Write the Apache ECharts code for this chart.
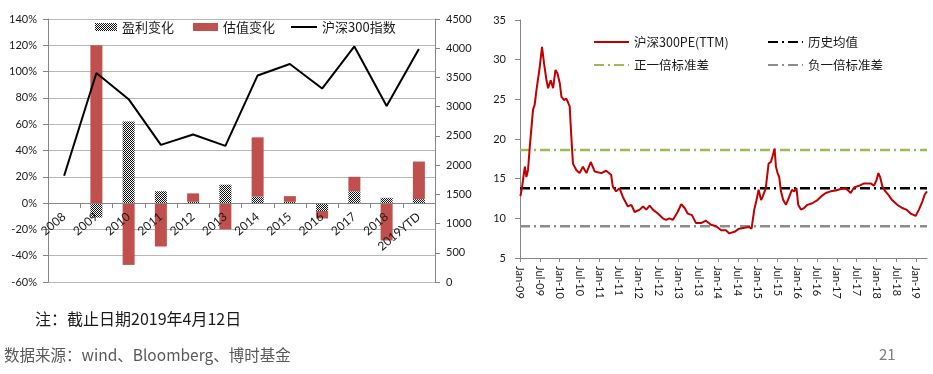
<!DOCTYPE html>
<html><head><meta charset="utf-8">
<script src="https://cdn.jsdelivr.net/npm/echarts@6/dist/echarts.min.js"></script>
<style>html,body{margin:0;padding:0;background:#fff}#c{width:933px;height:374px}</style>
</head><body><div id="c"></div>
<script>
// ---------- Left chart data ----------
const years = ['2008','2009','2010','2011','2012','2013','2014','2015','2016','2017','2018','2019YTD'];
const earningsChange = [null, -11, 62, 9, 1, 14, 5, 1, -6, 9, 4, 3];          // 盈利变化 (%)
const valuationChange = [null, 120, -47, -33, 6.4, -20, 45, 4.3, -5.7, 11, -28.4, 28.6]; // 估值变化 (%)
const hs300Index = [1818, 3576, 3128, 2346, 2523, 2330, 3534, 3731, 3310, 4031, 3011, 3985]; // 沪深300指数
const leftPctAxis = {min: -60, max: 140, step: 20};
const leftIdxAxis = {min: 0, max: 4500, step: 500};

// ---------- Right chart data ----------
const peDates = ['2009-01-05','2009-01-20','2009-02-01','2009-02-15','2009-03-01','2009-03-16','2009-04-01','2009-05-01','2009-05-16','2009-06-02',
'2009-07-02','2009-07-23','2009-08-11','2009-09-02','2009-09-17','2009-10-11','2009-11-02','2009-11-24','2009-12-12','2010-01-03',
'2010-01-18','2010-02-12','2010-03-04','2010-04-04','2010-04-19','2010-05-04','2010-06-04','2010-07-04','2010-08-04','2010-09-05',
'2010-10-15','2010-11-21','2011-01-21','2011-03-06','2011-04-21','2011-05-06','2011-06-06','2011-07-07','2011-08-07','2011-09-22',
'2011-10-24','2011-11-24','2012-01-09','2012-02-09','2012-03-10','2012-04-10','2012-05-10','2012-06-25','2012-08-10','2012-09-10',
'2012-10-10','2012-11-10','2012-12-25','2013-01-27','2013-02-27','2013-03-27','2013-05-06','2013-06-12','2013-07-28','2013-09-12',
'2013-10-28','2013-12-15','2014-01-30','2014-03-15','2014-04-15','2014-06-01','2014-07-15','2014-09-01','2014-10-15','2014-11-06',
'2014-12-01','2014-12-22','2015-01-10','2015-02-02','2015-02-16','2015-03-17','2015-04-12','2015-05-03','2015-05-18','2015-06-06',
'2015-06-19','2015-07-04','2015-07-19','2015-08-04','2015-08-25','2015-09-19','2015-10-19','2015-11-13','2015-12-04','2015-12-25',
'2016-01-10','2016-02-04','2016-03-04','2016-04-04','2016-05-19','2016-07-06','2016-08-21','2016-09-21','2016-11-06','2016-12-22',
'2017-02-06','2017-03-24','2017-05-09','2017-06-09','2017-07-24','2017-09-09','2017-11-09','2017-12-09','2018-01-01','2018-01-19',
'2018-02-04','2018-02-25','2018-03-25','2018-04-25','2018-05-25','2018-07-12','2018-08-27','2018-10-03','2018-11-12','2018-12-28',
'2019-01-28','2019-02-28','2019-03-22','2019-04-12'];
const peValues = [12.8,13.9,15.2,16.5,15.2,16.1,19.0,23.7,24.3,26.2,
29.1,31.6,29.5,27.4,26.4,27.4,26.4,28.7,28.3,27.0,
25.3,24.9,25.1,24.1,20.3,16.9,16.1,15.7,16.5,15.7,
17.1,15.9,15.7,16.0,15.5,14.0,13.4,13.8,12.7,11.5,
11.7,10.8,11.1,11.5,11.1,11.6,11.1,10.6,10.0,9.8,
10.0,9.8,10.8,11.8,11.3,10.6,10.4,9.4,9.4,9.7,
9.2,9.0,8.5,8.5,8.1,8.3,8.7,8.8,8.9,8.7,
11.1,12.3,13.6,12.3,12.7,13.8,16.9,17.1,17.8,18.8,
16.5,15.7,15.2,13.4,12.3,11.7,12.7,13.6,13.4,13.8,
11.7,11.1,11.3,11.7,11.9,12.3,12.9,13.2,13.4,13.5,
13.7,13.8,13.2,13.9,14.1,14.4,14.4,14.1,14.8,15.7,
15.2,14.0,13.4,12.9,12.3,11.7,11.3,11.1,10.6,10.3,
11.1,12.1,13.0,13.4];
const peMean = 13.8, pePlusSd = 18.6, peMinusSd = 9.0;
const peAxisStart = '2009-01-01', peAxisEnd = '2019-04-12';
const rightPeAxis = {min: 5, max: 35, step: 5};

function toYear(s){
  const d = new Date(s + 'T00:00:00Z');
  const y = d.getUTCFullYear();
  const a = Date.UTC(y,0,1), b = Date.UTC(y+1,0,1);
  return y + (d.getTime() - a) / (b - a);
}
const xStart = toYear(peAxisStart), xEnd = toYear(peAxisEnd);
const peSeries = peDates.map((d,i) => [toYear(d), peValues[i]]);
const flat = v => [[xStart, v], [xEnd, v]];

// checker pattern
const pc = document.createElement('canvas');
pc.width = 2; pc.height = 2;
const g = pc.getContext('2d');
g.fillStyle = '#ffffff'; g.fillRect(0,0,2,2);
g.fillStyle = '#111111'; g.fillRect(0,0,1,1); g.fillRect(1,1,1,1);
const checker = {image: pc, repeat: 'repeat'};

const NUM = 'Lato, "Open Sans", sans-serif';
const CJK = '"Noto Sans CJK SC", sans-serif';
const axisGray = '#868686';
const dashDot = [10,4,2,4];

// left grid geometry
const LG = {left: 48, right: 498, top: 19, bottom: 92};
const leftGridH = 374 - LG.top - LG.bottom;
const zeroOffset = -leftGridH * (0 - leftPctAxis.min) / (leftPctAxis.max - leftPctAxis.min);

const legendBase = {padding: 0, itemGap: 0, textStyle: {fontFamily: CJK, fontSize: 12.5, color: '#1a1a1a', lineHeight: 16}};
function lg(name, left, top, extra){ return Object.assign({}, legendBase, {data:[name], left, top}, extra||{}); }
const lineLegend = {itemStyle: {opacity: 0}};
const t13 = Object.assign({}, legendBase.textStyle, {fontSize: 13});

const chart = echarts.init(document.getElementById('c'), null, {renderer: 'canvas'});
chart.setOption({
  animation: false,
  backgroundColor: '#fff',
  grid: [
    LG,
    {left: 520, right: 6, top: 20, bottom: 116}
  ],
  legend: [
    lg('盈利变化', 95, 19, {icon: 'rect', itemWidth: 22, itemHeight: 8, textStyle: t13}),
    lg('估值变化', 193, 19, {icon: 'rect', itemWidth: 25, itemHeight: 8, textStyle: t13}),
    lg('沪深300指数', 290, 19, Object.assign({itemWidth: 26, itemHeight: 8, textStyle: t13}, lineLegend)),
    lg('沪深300PE(TTM)', 593, 34, Object.assign({itemWidth: 35, itemHeight: 8}, lineLegend)),
    lg('历史均值', 767, 34, Object.assign({itemWidth: 35, itemHeight: 8}, lineLegend)),
    lg('正一倍标准差', 593, 57, Object.assign({itemWidth: 35, itemHeight: 8}, lineLegend)),
    lg('负一倍标准差', 767, 57, Object.assign({itemWidth: 35, itemHeight: 8}, lineLegend))
  ],
  xAxis: [
    {gridIndex: 0, type: 'category', data: years, boundaryGap: true, position: 'bottom', offset: zeroOffset, z: 4,
     axisLine: {onZero: false, lineStyle: {color: axisGray}},
     axisTick: {show: true, length: 5, alignWithLabel: false, lineStyle: {color: axisGray}},
     axisLabel: {rotate: 40, interval: 0, margin: 12, fontFamily: NUM, fontSize: 12, color: '#1a1a1a'},
     splitLine: {show: false}},
    {gridIndex: 1, type: 'value', min: xStart, max: xEnd, interval: 0.5,
     axisLine: {onZero: false, lineStyle: {color: axisGray}},
     axisTick: {show: true, length: 4, lineStyle: {color: axisGray}},
     splitLine: {show: false},
     axisLabel: {rotate: -90, margin: 8, fontFamily: NUM, fontSize: 11, color: '#1a1a1a', showMaxLabel: false,
       formatter: v => { const y = Math.floor(v + 1e-6); const m = (v - y) > 0.25 ? 'Jul' : 'Jan'; return m + '-' + String(y % 100).padStart(2,'0'); }}}
  ],
  yAxis: [
    {gridIndex: 0, type: 'value', min: leftPctAxis.min, max: leftPctAxis.max, interval: leftPctAxis.step,
     axisLine: {show: true, onZero: false, lineStyle: {color: axisGray}},
     axisTick: {show: true, length: 5, lineStyle: {color: axisGray}},
     axisLabel: {formatter: v => v + '%', margin: 11, fontFamily: NUM, fontSize: 11, color: '#1a1a1a'},
     splitLine: {show: true, lineStyle: {color: '#b8b8b8', width: 1}}},
    {gridIndex: 0, type: 'value', position: 'right', min: leftIdxAxis.min, max: leftIdxAxis.max, interval: leftIdxAxis.step,
     alignTicks: false,
     axisLine: {show: true, onZero: false, lineStyle: {color: axisGray}},
     axisTick: {show: true, length: 5, lineStyle: {color: axisGray}},
     axisLabel: {formatter: v => String(v), margin: 11, fontFamily: NUM, fontSize: 11, color: '#1a1a1a'},
     splitLine: {show: false}},
    {gridIndex: 1, type: 'value', min: rightPeAxis.min, max: rightPeAxis.max, interval: rightPeAxis.step,
     axisLine: {show: true, onZero: false, lineStyle: {color: axisGray}},
     axisTick: {show: true, length: 5, lineStyle: {color: axisGray}},
     axisLabel: {formatter: v => String(v), margin: 14, fontFamily: NUM, fontSize: 11, color: '#1a1a1a'},
     splitLine: {show: false}}
  ],
  series: [
    {name: '盈利变化', type: 'bar', xAxisIndex: 0, yAxisIndex: 0, stack: 'chg', barWidth: 12,
     data: earningsChange, itemStyle: {color: checker}},
    {name: '估值变化', type: 'bar', xAxisIndex: 0, yAxisIndex: 0, stack: 'chg', barWidth: 12,
     data: valuationChange, itemStyle: {color: '#C0504D'}},
    {name: '沪深300指数', type: 'line', xAxisIndex: 0, yAxisIndex: 1, data: hs300Index, symbol: 'none', z: 6,
     lineStyle: {color: '#000', width: 2}, itemStyle: {color: '#000'}},
    {name: '沪深300PE(TTM)', type: 'line', xAxisIndex: 1, yAxisIndex: 2, data: peSeries, symbol: 'none', z: 5,
     lineStyle: {color: '#C00000', width: 2}, itemStyle: {color: '#C00000'}},
    {name: '历史均值', type: 'line', xAxisIndex: 1, yAxisIndex: 2, data: flat(peMean), symbol: 'none', z: 3,
     lineStyle: {color: '#000', width: 2.5, type: dashDot}, itemStyle: {color: '#000'}},
    {name: '正一倍标准差', type: 'line', xAxisIndex: 1, yAxisIndex: 2, data: flat(pePlusSd), symbol: 'none', z: 3,
     lineStyle: {color: '#9BBB59', width: 2.5, type: dashDot}, itemStyle: {color: '#9BBB59'}},
    {name: '负一倍标准差', type: 'line', xAxisIndex: 1, yAxisIndex: 2, data: flat(peMinusSd), symbol: 'none', z: 3,
     lineStyle: {color: '#8C8C8C', width: 2.5, type: dashDot}, itemStyle: {color: '#8C8C8C'}}
  ],
  graphic: [
    {type: 'text', left: 35, top: 311, style: {text: '注：截止日期2019年4月12日', font: '16px "Noto Sans CJK SC"', fill: '#1a1a1a'}},
    {type: 'text', left: 4, top: 347, style: {text: '数据来源：wind、Bloomberg、博时基金', font: '15.5px "Noto Sans CJK SC"', fill: '#595959'}},
    {type: 'text', left: 879, top: 347, style: {text: '21', font: '15px "Noto Sans CJK SC"', fill: '#7f7f7f'}}
  ]
});
</script>
</body></html>
